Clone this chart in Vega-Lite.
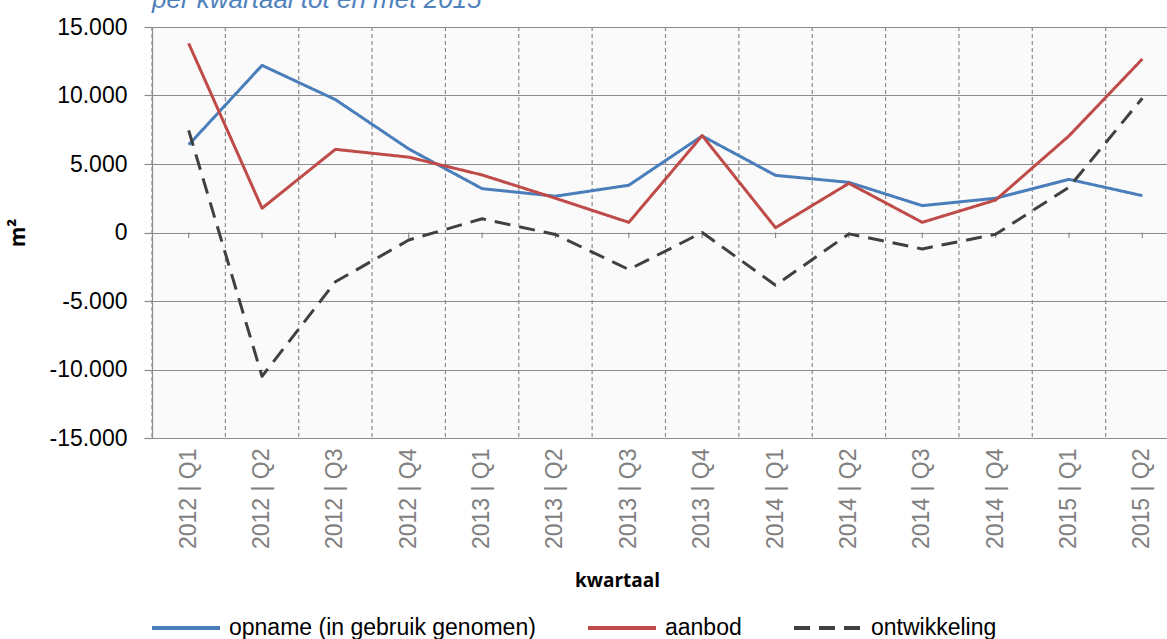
{
  "$schema": "https://vega.github.io/schema/vega-lite/v6.json",
  "autosize": {"type": "none"},
  "padding": {"left": 152, "top": 27, "right": 0, "bottom": 201},
  "width": 1027,
  "height": 411,
  "background": "white",
  "title": {
    "text": "per kwartaal tot en met 2015",
    "anchor": "start",
    "frame": "group",
    "font": "Liberation Sans",
    "fontSize": 26,
    "fontStyle": "italic",
    "fontWeight": "normal",
    "color": "#4F81BD",
    "baseline": "alphabetic",
    "offset": -18
  },
  "config": {
    "font": "Liberation Sans",
    "view": {"fill": "#fafafa", "stroke": null},
    "axisY": {
      "grid": true,
      "gridColor": "#8c8c8c",
      "gridWidth": 1.2,
      "domainColor": "#8c8c8c",
      "domainWidth": 1.2,
      "tickColor": "#8c8c8c",
      "tickSize": 8,
      "tickWidth": 1.2,
      "labelFontSize": 23,
      "labelColor": "#000000",
      "labelPadding": 17,
      "titleFont": "Open Sans",
      "titleFontSize": 21,
      "titleFontWeight": "bold",
      "titleColor": "#000000",
      "titlePadding": 20
    },
    "axisX": {
      "grid": false,
      "ticks": false,
      "domainColor": "#8c8c8c",
      "domainWidth": 1.2,
      "labelFontSize": 23,
      "labelColor": "#808080",
      "labelAngle": -90,
      "labelAlign": "right",
      "labelBaseline": "middle",
      "labelPadding": 10,
      "titleFont": "Open Sans",
      "titleFontSize": 19,
      "titleFontWeight": "bold",
      "titleColor": "#000000",
      "titlePadding": 23,
      "titleX": 465
    }
  },
  "data": {
    "values": [
      {"kwartaal": "2012 | Q1", "serie": "opname (in gebruik genomen)", "m2": 6400},
      {"kwartaal": "2012 | Q2", "serie": "opname (in gebruik genomen)", "m2": 12200},
      {"kwartaal": "2012 | Q3", "serie": "opname (in gebruik genomen)", "m2": 9700},
      {"kwartaal": "2012 | Q4", "serie": "opname (in gebruik genomen)", "m2": 6100},
      {"kwartaal": "2013 | Q1", "serie": "opname (in gebruik genomen)", "m2": 3200},
      {"kwartaal": "2013 | Q2", "serie": "opname (in gebruik genomen)", "m2": 2650},
      {"kwartaal": "2013 | Q3", "serie": "opname (in gebruik genomen)", "m2": 3450},
      {"kwartaal": "2013 | Q4", "serie": "opname (in gebruik genomen)", "m2": 7050},
      {"kwartaal": "2014 | Q1", "serie": "opname (in gebruik genomen)", "m2": 4170},
      {"kwartaal": "2014 | Q2", "serie": "opname (in gebruik genomen)", "m2": 3660},
      {"kwartaal": "2014 | Q3", "serie": "opname (in gebruik genomen)", "m2": 1960},
      {"kwartaal": "2014 | Q4", "serie": "opname (in gebruik genomen)", "m2": 2500},
      {"kwartaal": "2015 | Q1", "serie": "opname (in gebruik genomen)", "m2": 3880},
      {"kwartaal": "2015 | Q2", "serie": "opname (in gebruik genomen)", "m2": 2690},
      {"kwartaal": "2012 | Q1", "serie": "aanbod", "m2": 13800},
      {"kwartaal": "2012 | Q2", "serie": "aanbod", "m2": 1770},
      {"kwartaal": "2012 | Q3", "serie": "aanbod", "m2": 6070},
      {"kwartaal": "2012 | Q4", "serie": "aanbod", "m2": 5500},
      {"kwartaal": "2013 | Q1", "serie": "aanbod", "m2": 4200},
      {"kwartaal": "2013 | Q2", "serie": "aanbod", "m2": 2500},
      {"kwartaal": "2013 | Q3", "serie": "aanbod", "m2": 740},
      {"kwartaal": "2013 | Q4", "serie": "aanbod", "m2": 7070},
      {"kwartaal": "2014 | Q1", "serie": "aanbod", "m2": 350},
      {"kwartaal": "2014 | Q2", "serie": "aanbod", "m2": 3590},
      {"kwartaal": "2014 | Q3", "serie": "aanbod", "m2": 740},
      {"kwartaal": "2014 | Q4", "serie": "aanbod", "m2": 2370},
      {"kwartaal": "2015 | Q1", "serie": "aanbod", "m2": 7050},
      {"kwartaal": "2015 | Q2", "serie": "aanbod", "m2": 12660},
      {"kwartaal": "2012 | Q1", "serie": "ontwikkeling", "m2": 7450},
      {"kwartaal": "2012 | Q2", "serie": "ontwikkeling", "m2": -10500},
      {"kwartaal": "2012 | Q3", "serie": "ontwikkeling", "m2": -3600},
      {"kwartaal": "2012 | Q4", "serie": "ontwikkeling", "m2": -550},
      {"kwartaal": "2013 | Q1", "serie": "ontwikkeling", "m2": 1000},
      {"kwartaal": "2013 | Q2", "serie": "ontwikkeling", "m2": -150},
      {"kwartaal": "2013 | Q3", "serie": "ontwikkeling", "m2": -2700},
      {"kwartaal": "2013 | Q4", "serie": "ontwikkeling", "m2": 0},
      {"kwartaal": "2014 | Q1", "serie": "ontwikkeling", "m2": -3850},
      {"kwartaal": "2014 | Q2", "serie": "ontwikkeling", "m2": -100},
      {"kwartaal": "2014 | Q3", "serie": "ontwikkeling", "m2": -1200},
      {"kwartaal": "2014 | Q4", "serie": "ontwikkeling", "m2": -130},
      {"kwartaal": "2015 | Q1", "serie": "ontwikkeling", "m2": 3300},
      {"kwartaal": "2015 | Q2", "serie": "ontwikkeling", "m2": 9800}
    ]
  },
  "encoding": {
    "x": {
      "field": "kwartaal",
      "type": "nominal",
      "sort": null,
      "title": "kwartaal",
      "scale": {"paddingInner": 0, "paddingOuter": 0}
    }
  },
  "layer": [
    {
      "transform": [{"filter": "datum.serie === 'aanbod'"}],
      "mark": {"type": "rule", "color": "#8c8c8c", "strokeWidth": 1.2, "strokeDash": [4, 3]},
      "encoding": {
        "x": {"field": "kwartaal", "type": "nominal", "sort": null, "bandPosition": 0, "title": "kwartaal"}
      }
    },
    {
      "transform": [{"filter": "datum.serie === 'aanbod'"}],
      "mark": {"type": "rule", "color": "#8c8c8c", "strokeWidth": 1.2},
      "encoding": {
        "y": {"datum": 0, "type": "quantitative", "title": "m²"},
        "y2": {"datum": -400}
      }
    },
    {
      "mark": {"type": "line", "strokeCap": "butt", "strokeJoin": "round", "strokeWidth": 3},
      "encoding": {
        "y": {
          "field": "m2",
          "type": "quantitative",
          "title": "m²",
          "scale": {"domain": [-15000, 15000], "nice": false},
          "axis": {
            "values": [-15000, -10000, -5000, 0, 5000, 10000, 15000],
            "labelExpr": "(datum.value < 0 ? '-' : '') + replace(format(abs(datum.value), ','), ',', '.')"
          }
        },
        "strokeWidth": {
          "condition": {"test": "datum.serie === 'ontwikkeling'", "value": 4.5},
          "value": 3
        },
        "color": {
          "field": "serie",
          "type": "nominal",
          "scale": {
            "domain": ["opname (in gebruik genomen)", "aanbod", "ontwikkeling"],
            "range": ["#4A7EBB", "#BE4B48", "#404040"]
          },
          "legend": {
            "title": null,
            "orient": "none",
            "legendX": -2,
            "legendY": 565,
            "direction": "horizontal",
            "symbolType": "stroke",
            "symbolSize": 4624,
            "symbolStrokeWidth": 4,
            "labelFontSize": 23,
            "labelLimit": 500,
            "labelColor": "#000000",
            "labelOffset": 7,
            "columnPadding": 44,
            "symbolOffset": 0
          }
        },
        "strokeDash": {
          "field": "serie",
          "type": "nominal",
          "scale": {
            "domain": ["opname (in gebruik genomen)", "aanbod", "ontwikkeling"],
            "range": [[1, 0], [1, 0], [16, 9]]
          },
          "legend": {
            "title": null,
            "orient": "none",
            "legendX": -2,
            "legendY": 565,
            "direction": "horizontal",
            "symbolType": "stroke",
            "symbolSize": 4624,
            "symbolStrokeWidth": 4,
            "labelFontSize": 23,
            "labelLimit": 500,
            "labelColor": "#000000",
            "labelOffset": 7,
            "columnPadding": 44,
            "symbolOffset": 0
          }
        }
      }
    }
  ]
}
